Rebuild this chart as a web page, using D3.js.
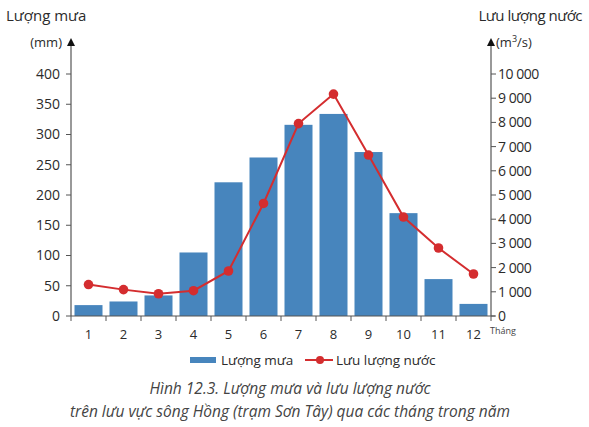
<!DOCTYPE html>
<html>
<head>
<meta charset="utf-8">
<script src="https://cdn.jsdelivr.net/npm/d3@7"></script>
<style>
  body { margin: 0; background: #fff; }
  svg { display: block; font-family: "Open Sans", "Noto Sans", sans-serif; }
</style>
</head>
<body>
<svg id="chart" width="589" height="427"></svg>
<script>
const months = [1, 2, 3, 4, 5, 6, 7, 8, 9, 10, 11, 12];
const rainfall = [18, 24, 34, 105, 221, 262, 316, 334, 271, 170, 61, 20];
const discharge = [1300, 1090, 920, 1045, 1860, 4650, 7950, 9170, 6650, 4090, 2810, 1735];
const rainTicks = [0, 50, 100, 150, 200, 250, 300, 350, 400];
const flowTicks = [0, 1000, 2000, 3000, 4000, 5000, 6000, 7000, 8000, 9000, 10000];

const svg = d3.select("#chart");
const plotLeft = 71, plotRight = 491, plotBottom = 316, plotTop = 74;
const textColor = "#2b2b2b", axisColor = "#555";

const x = d3.scaleBand().domain(months).range([plotLeft, plotRight]).paddingInner(0.2).paddingOuter(0.1);
const yRain = d3.scaleLinear().domain([0, 400]).range([plotBottom, plotTop]);
const yFlow = d3.scaleLinear().domain([0, 10000]).range([plotBottom, plotTop]);

const fmt = v => d3.format(",")(v).replace(",", " ");

// bars
svg.append("g")
    .selectAll("rect")
    .data(months)
    .enter().append("rect")
    .attr("x", d => x(d))
    .attr("width", x.bandwidth())
    .attr("y", (d, i) => yRain(rainfall[i]))
    .attr("height", (d, i) => plotBottom - yRain(rainfall[i]))
    .attr("fill", "#4785bd");

// left axis
const gl = svg.append("g").attr("transform", `translate(${plotLeft},0)`);
gl.append("line").attr("y1", plotBottom).attr("y2", 44).attr("stroke", axisColor).attr("stroke-width", 1.2);
gl.append("path").attr("d", "M0,38 L-4,46 L4,46 Z").attr("fill", "#111");
gl.selectAll(".t").data(rainTicks).enter().append("line")
    .attr("x1", -5).attr("x2", 0)
    .attr("y1", d => yRain(d)).attr("y2", d => yRain(d))
    .attr("stroke", axisColor);
gl.selectAll("text").data(rainTicks).enter().append("text")
    .attr("x", -11).attr("y", d => yRain(d)).attr("dy", "0.35em")
    .attr("text-anchor", "end").attr("font-size", 14).attr("fill", textColor)
    .text(d => d);

// right axis
const gr = svg.append("g").attr("transform", `translate(${plotRight},0)`);
gr.append("line").attr("y1", plotBottom).attr("y2", 44).attr("stroke", axisColor).attr("stroke-width", 1.2);
gr.append("path").attr("d", "M0,38 L-4,46 L4,46 Z").attr("fill", "#111");
gr.selectAll(".t").data(flowTicks).enter().append("line")
    .attr("x1", 0).attr("x2", 5)
    .attr("y1", d => yFlow(d)).attr("y2", d => yFlow(d))
    .attr("stroke", axisColor);
gr.selectAll("text").data(flowTicks).enter().append("text")
    .attr("x", 7).attr("y", d => yFlow(d)).attr("dy", "0.35em")
    .attr("text-anchor", "start").attr("font-size", 14).attr("fill", textColor)
    .attr("letter-spacing", -0.5)
    .text(d => fmt(d));

// x axis
const gx = svg.append("g").attr("transform", `translate(0,${plotBottom})`);
gx.append("line").attr("x1", plotLeft).attr("x2", plotRight + 4).attr("stroke", axisColor).attr("stroke-width", 1.2);
const step = x.step();
gx.selectAll(".t").data(d3.range(13)).enter().append("line")
    .attr("x1", d => plotLeft + d * step).attr("x2", d => plotLeft + d * step)
    .attr("y1", 0).attr("y2", 5)
    .attr("stroke", axisColor);
gx.selectAll("text").data(months).enter().append("text")
    .attr("x", d => x(d) + x.bandwidth() / 2).attr("y", 23)
    .attr("text-anchor", "middle").attr("font-size", 13).attr("fill", textColor)
    .text(d => d);
gx.append("text").attr("x", plotRight - 1).attr("y", 18)
    .attr("font-size", 9).attr("fill", "#444").text("Tháng");

// discharge line
const line = d3.line()
    .x((d, i) => x(months[i]) + x.bandwidth() / 2)
    .y(d => yFlow(d));
svg.append("path").datum(discharge)
    .attr("d", line).attr("fill", "none")
    .attr("stroke", "#d42d2f").attr("stroke-width", 2);
svg.append("g").selectAll("circle").data(discharge).enter().append("circle")
    .attr("cx", (d, i) => x(months[i]) + x.bandwidth() / 2)
    .attr("cy", d => yFlow(d))
    .attr("r", 4.8).attr("fill", "#d42d2f");

// titles
svg.append("text").attr("x", 6).attr("y", 21).attr("font-size", 15).attr("fill", textColor).text("Lượng mưa");
svg.append("text").attr("x", 62).attr("y", 47).attr("text-anchor", "end").attr("font-size", 13).attr("fill", textColor).text("(mm)");
svg.append("text").attr("x", 582).attr("y", 21).attr("text-anchor", "end").attr("font-size", 15)
    .attr("letter-spacing", -0.5).attr("fill", textColor).text("Lưu lượng nước");
const unit = svg.append("text").attr("x", 496).attr("y", 47).attr("font-size", 13).attr("fill", textColor);
unit.append("tspan").text("(m");
unit.append("tspan").attr("dy", -5).attr("font-size", 9).text("3");
unit.append("tspan").attr("dy", 5).text("/s)");

// legend
const lg = svg.append("g").attr("transform", "translate(0,360)");
lg.append("rect").attr("x", 190).attr("y", -3).attr("width", 26).attr("height", 6).attr("fill", "#4785bd");
lg.append("text").attr("x", 221).attr("y", 0).attr("dy", "0.35em").attr("font-size", 13.5).attr("fill", textColor).text("Lượng mưa");
lg.append("line").attr("x1", 305).attr("x2", 333).attr("stroke", "#d42d2f").attr("stroke-width", 2);
lg.append("circle").attr("cx", 320).attr("r", 4).attr("fill", "#d42d2f");
lg.append("text").attr("x", 336).attr("y", 0).attr("dy", "0.35em").attr("font-size", 13.5).attr("fill", textColor).text("Lưu lượng nước");

// caption
const cap = ["Hình 12.3. Lượng mưa và lưu lượng nước",
             "trên lưu vực sông Hồng (trạm Sơn Tây) qua các tháng trong năm"];
svg.append("g").selectAll("text").data(cap).enter().append("text")
    .attr("x", 290).attr("y", (d, i) => 394 + i * 23)
    .attr("text-anchor", "middle").attr("font-size", 15.5).attr("font-style", "italic")
    .attr("fill", "#444")
    .text(d => d);
</script>
</body>
</html>
